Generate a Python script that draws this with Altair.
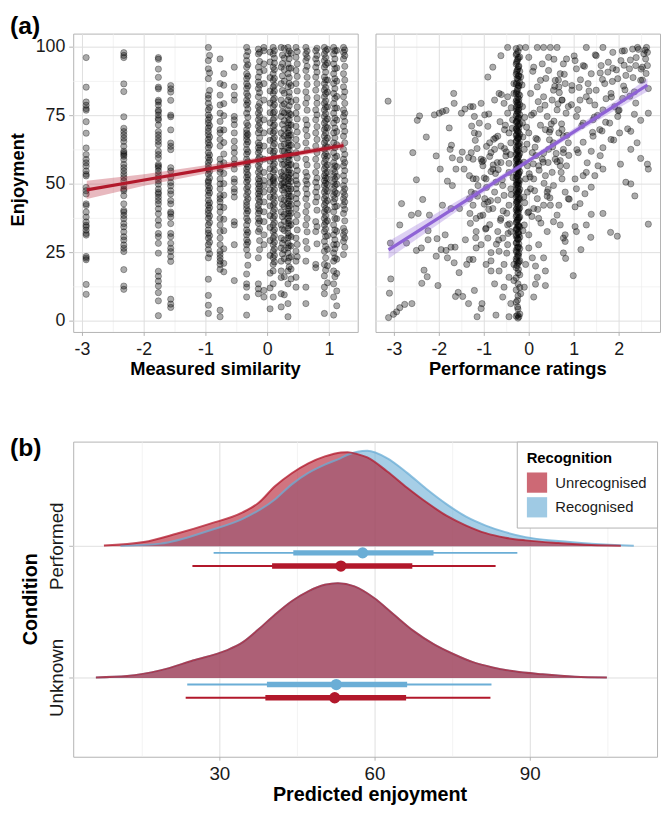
import altair as alt
import pandas as pd

RED = "#B2182B"
BLUE = "#6BAED6"
PURPLE = "#8F63D6"
FONT = "Liberation Sans"
GRID = "#DEDEDE"
MINOR = "#EEEEEE"
TICK = "#B3B3B3"
LAB = "#1A1A1A"

# ---------------- panel (a), left: measured similarity (columns of enjoyment values) ----------------
sim_cols = [-2.94, -2.33, -1.77, -1.57, -0.96, -0.77, -0.54, -0.34, -0.15, -0.06,
            0.09, 0.22, 0.33, 0.46, 0.62, 0.78, 0.92, 1.07, 1.23, -0.71, 0.04, 0.27, 0.38, 0.97, 1.12,
            -0.94, -0.32, -0.13, 0.11, 0.24, 0.35, 0.48, 0.64, 0.80, 0.94, 1.09, 1.25]
sim_c1 = [96.2, 85.4, 80.0, 78.8, 77.6, 77.0, 72.8, 68.6, 63.2, 60.8, 59.0, 57.8, 56.6, 54.8, 53.6, 53.0, 48.8, 47.6, 46.4, 42.8, 42.2, 39.8, 38.0, 36.2, 35.0, 34.4, 33.2, 32.0, 31.4, 23.6, 23.0, 22.4, 13.4, 9.8]
sim_c2 = [98.0, 97.0, 96.2, 86.6, 83.8, 74.6, 70.4, 69.2, 68.0, 66.8, 65.6, 63.8, 62.0, 61.4, 60.8, 60.2, 59.0, 57.2, 56.0, 54.8, 53.6, 52.4, 51.2, 49.4, 48.2, 47.6, 45.8, 42.8, 40.4, 39.8, 38.6, 37.4, 35.6, 34.4, 32.6, 30.8, 29.6, 27.8, 26.6, 25.4, 18.8, 12.8, 11.6]
sim_c3 = [96.2, 95.6, 92.0, 89.0, 85.4, 84.8, 80.6, 80.0, 78.8, 77.0, 76.4, 75.2, 74.0, 73.4, 71.6, 69.2, 68.0, 66.8, 65.6, 64.4, 62.0, 60.8, 59.6, 57.2, 56.6, 56.0, 54.8, 53.6, 52.4, 51.2, 50.0, 48.2, 47.0, 46.4, 45.2, 44.0, 42.8, 41.0, 39.2, 36.8, 35.0, 32.0, 30.8, 28.4, 24.8, 18.2, 16.4, 14.6, 12.8, 10.4, 7.4, 2.0]
sim_c4 = [86.0, 84.8, 83.6, 80.6, 75.2, 74.6, 69.8, 65.0, 63.8, 62.6, 56.0, 54.8, 52.4, 50.6, 49.4, 47.6, 46.4, 44.0, 42.8, 39.8, 39.2, 38.0, 35.6, 32.0, 30.8, 28.4, 26.6, 25.4, 23.6, 21.8, 8.0, 6.2, 5.0]
sim_c5 = [99.9, 95.1, 92.1, 88.5, 82.5, 81.3, 79.5, 77.1, 75.3, 73.5, 72.3, 70.5, 69.3, 68.1, 66.3, 65.1, 63.3, 61.5, 59.7, 57.9, 56.7, 55.5, 53.7, 51.3, 50.7, 49.5, 47.7, 45.9, 44.1, 42.3, 40.5, 39.3, 37.5, 35.1, 33.3, 32.1, 30.3, 27.9, 26.1, 23.1, 15.3, 9.4, 5.8, 2.8]
sim_c6 = [95.7, 86.7, 82.5, 78.9, 75.9, 72.9, 69.9, 68.7, 66.3, 63.9, 59.1, 57.3, 55.5, 54.3, 51.9, 50.1, 48.3, 45.9, 44.7, 43.5, 41.7, 39.9, 37.5, 35.1, 32.7, 30.3, 27.9, 25.5, 24.3, 23.1, 21.9, 20.7, 18.9, 4.0, 1.6]
sim_c7 = [92.7, 85.5, 82.5, 80.7, 74.7, 73.5, 71.7, 68.7, 65.7, 63.3, 61.5, 59.1, 57.3, 55.5, 51.9, 50.7, 48.3, 47.1, 45.3, 36.3, 35.1, 27.9, 14.8]
sim_c8 = [99.9, 96.9, 95.1, 92.7, 90.3, 88.5, 86.7, 84.9, 83.1, 80.7, 78.9, 75.9, 72.3, 69.9, 68.7, 67.5, 66.3, 64.5, 62.7, 60.9, 59.1, 57.3, 55.5, 54.3, 52.5, 50.7, 48.3, 45.9, 43.5, 42.3, 41.1, 39.3, 37.5, 35.1, 33.3, 31.5, 29.7, 27.9, 26.1, 17.2, 13.6, 12.4, 8.8, 2.2]
sim_c9 = [99.3, 97.5, 92.7, 89.1, 87.3, 84.9, 81.9, 78.3, 75.9, 73.5, 71.1, 68.7, 65.1, 63.3, 61.5, 59.1, 56.7, 54.3, 51.9, 50.1, 48.3, 46.5, 44.7, 42.3, 41.1, 39.3, 37.5, 35.7, 32.7, 23.1, 13.6, 11.8, 10.0]
sim_c10 = [99.9, 98.7, 93.9, 91.5, 86.7, 80.7, 73.5, 68.7, 63.9, 59.1, 54.3, 51.3, 49.5, 47.1, 43.5, 39.9, 36.3, 31.5, 27.9, 11.2, 8.8]
sim_c11 = [99.9, 97.5, 92.7, 90.3, 87.9, 85.5, 83.1, 80.7, 78.3, 75.9, 73.5, 71.1, 68.7, 66.3, 63.9, 61.5, 59.1, 56.7, 54.3, 51.9, 51.3, 49.5, 47.1, 44.7, 42.3, 39.9, 37.5, 35.1, 32.7, 30.3, 27.9, 25.5, 23.1, 20.7, 18.3, 13.6, 8.8]
sim_c12 = [99.9, 92.7, 86.7, 80.7, 74.7, 68.7, 63.9, 59.1, 54.3, 51.9, 49.5, 44.7, 39.9, 35.1, 30.3, 26.7, 21.9, 18.3, 15.9, 10.0, 5.2]
sim_c13 = [99.9, 97.5, 93.9, 90.3, 85.5, 80.7, 77.1, 74.7, 72.3, 70.5, 68.7, 66.9, 65.1, 63.3, 61.5, 59.7, 57.9, 56.1, 54.3, 52.5, 51.3, 50.1, 48.3, 46.5, 44.7, 42.9, 41.1, 39.3, 37.5, 35.7, 33.9, 32.1, 30.3, 28.5, 26.7, 24.9, 21.9, 18.3, 13.6, 6.4, 1.6]
sim_c14 = [99.9, 96.3, 91.5, 86.7, 80.7, 75.9, 71.1, 66.3, 61.5, 56.7, 53.1, 51.3, 48.3, 44.7, 41.1, 36.3, 30.3, 25.5, 21.9, 16.0, 12.4]
sim_c15 = [99.9, 97.5, 95.1, 91.5, 83.7, 79.5, 73.5, 69.9, 65.1, 59.1, 54.3, 51.3, 48.3, 44.7, 39.9, 35.1, 29.1, 21.9, 12.4, 6.4]
sim_c16 = [98.7, 95.7, 92.7, 89.1, 84.3, 77.1, 73.5, 68.7, 63.9, 59.1, 54.3, 50.7, 47.1, 43.5, 36.3, 32.7, 20.7, 19.5]
sim_c17 = [99.9, 97.5, 95.1, 92.7, 89.1, 86.7, 84.3, 81.9, 79.5, 77.1, 74.7, 72.3, 69.9, 67.5, 65.1, 62.7, 60.3, 57.9, 55.5, 53.1, 51.3, 49.5, 47.1, 44.7, 42.3, 39.9, 37.5, 35.1, 32.7, 29.1, 25.5, 20.7, 16.5, 12.4, 10.0, 2.8]
sim_c18 = [99.9, 97.5, 93.9, 90.3, 86.7, 83.1, 79.5, 75.9, 72.3, 68.7, 65.1, 61.5, 57.9, 55.5, 53.1, 50.7, 48.3, 45.9, 43.5, 39.9, 35.1, 31.5, 27.9, 24.9, 21.9, 18.3, 13.6, 8.8, 2.2]
sim_c19 = [99.9, 98.1, 95.7, 90.3, 85.5, 81.9, 77.1, 74.7, 71.1, 67.5, 62.7, 59.1, 56.7, 53.1, 49.5, 47.1, 44.7, 42.3, 39.3, 33.9, 31.5, 29.1, 24.3]
sim_c20 = [90.3, 86.1, 79.4, 75.0, 69.8, 65.2, 61.0, 57.8, 53.9, 50.2, 46.0, 41.5, 37.2, 33.0, 26.4, 21.1, 18.0]
sim_c21 = [98.2, 94.6, 88.9, 84.0, 79.6, 76.1, 72.4, 69.3, 66.0, 62.2, 58.4, 55.6, 52.8, 50.6, 48.0, 45.3, 42.1, 38.5, 34.2, 29.4, 24.0, 17.5, 12.1, 4.5]
sim_c22 = [99.6, 96.0, 91.8, 87.6, 83.2, 79.3, 76.0, 73.2, 70.0, 67.6, 64.6, 62.0, 59.9, 57.4, 55.0, 52.6, 50.5, 48.9, 46.8, 44.2, 41.8, 39.0, 36.4, 33.1, 29.7, 26.0, 22.8, 16.2, 9.6]
sim_c23 = [97.8, 92.3, 86.0, 80.1, 75.4, 71.6, 68.0, 64.2, 60.6, 57.2, 54.0, 51.0, 48.2, 45.5, 42.6, 39.4, 35.2, 30.8, 27.4, 23.5, 19.0, 15.4]
sim_c24 = [99.2, 94.2, 88.0, 83.6, 78.2, 73.8, 70.6, 66.8, 63.6, 60.2, 57.0, 54.4, 52.0, 49.8, 47.4, 44.0, 40.6, 36.6, 31.2, 26.2, 20.2, 14.0]
sim_c25 = [98.8, 92.4, 87.6, 82.0, 77.8, 73.4, 69.2, 64.4, 60.2, 56.4, 52.8, 50.0, 46.6, 42.0, 37.4, 32.8, 28.0, 22.6, 17.4, 11.0, 5.6]
sim_c26 = [97.0, 90.6, 84.2, 78.0, 74.4, 71.4, 67.2, 64.2, 60.6, 58.8, 54.6, 52.2, 48.6, 46.8, 43.2, 41.4, 38.4, 36.0, 31.2, 28.8, 24.6]
sim_c27 = [98.4, 93.6, 89.4, 85.8, 82.2, 79.8, 77.4, 74.4, 71.4, 68.1, 65.4, 61.8, 58.2, 56.4, 53.4, 51.6, 49.2, 47.1, 44.7, 40.2, 36.6, 32.4, 28.8, 24.0, 20.4]
sim_c28 = [98.1, 94.8, 90.9, 86.1, 83.4, 79.5, 77.1, 74.7, 72.3, 69.9, 66.9, 64.2, 62.4, 60.0, 57.9, 55.5, 53.1, 51.0, 49.2, 47.4, 45.6, 43.5, 40.2, 36.6, 33.6, 29.4, 26.1]
sim_c29 = [98.7, 96.0, 94.2, 91.8, 88.6, 86.1, 84.0, 81.3, 79.0, 76.4, 74.2, 71.6, 69.4, 67.0, 64.8, 62.1, 60.0, 57.5, 55.2, 52.6, 50.4, 48.0, 45.6, 43.2, 40.8, 38.4, 36.0, 33.4, 31.2, 28.8, 26.4, 24.0, 21.6]
sim_c30 = [97.1, 94.0, 89.5, 84.2, 78.6, 76.3, 71.8, 66.5, 62.1, 57.2, 53.0, 50.2, 47.9, 42.6, 38.1, 33.7, 28.4, 24.5]
sim_c31 = [98.6, 95.8, 92.4, 88.9, 86.8, 83.5, 81.9, 78.6, 75.8, 73.5, 71.6, 69.5, 67.8, 66.0, 64.1, 62.4, 60.5, 58.8, 57.0, 55.2, 53.4, 52.0, 49.3, 47.4, 45.6, 43.8, 42.0, 40.2, 38.4, 36.6, 34.8, 31.2, 27.6, 23.1, 19.8]
sim_c32 = [98.4, 93.9, 89.3, 84.0, 78.2, 73.8, 69.0, 64.0, 59.5, 55.0, 50.0, 46.6, 42.9, 38.7, 33.3, 28.0, 23.5]
sim_c33 = [98.6, 96.2, 93.0, 89.0, 86.4, 81.5, 77.0, 71.6, 67.6, 62.5, 57.0, 52.8, 50.0, 46.4, 42.2, 37.5, 32.6, 26.5]
sim_c34 = [99.6, 97.0, 94.2, 90.9, 86.7, 81.6, 79.5, 75.3, 71.0, 66.3, 61.5, 56.7, 52.2, 48.9, 45.3, 40.5, 34.5, 28.2]
sim_c35 = [98.7, 96.2, 93.6, 90.9, 88.0, 85.3, 83.0, 80.4, 78.1, 75.7, 73.2, 70.8, 68.6, 66.1, 63.8, 61.2, 59.0, 56.5, 54.1, 52.2, 50.4, 48.1, 45.7, 43.3, 41.0, 38.5, 36.1, 33.6, 30.9, 27.3, 23.1, 18.6]
sim_c36 = [98.7, 95.7, 92.1, 88.5, 84.9, 81.3, 77.7, 74.1, 70.5, 66.9, 63.3, 59.7, 56.7, 54.3, 51.9, 49.5, 47.1, 44.7, 41.7, 37.5, 33.3, 29.7, 26.4, 23.1, 16.2]
sim_c37 = [99.0, 96.9, 93.0, 88.0, 83.7, 79.5, 75.9, 72.9, 69.3, 65.1, 60.9, 57.9, 54.9, 51.3, 48.3, 45.9, 43.5, 40.8, 36.6, 32.7, 30.3, 27.0]
sim_values = [sim_c1, sim_c2, sim_c3, sim_c4, sim_c5, sim_c6, sim_c7, sim_c8, sim_c9, sim_c10,
              sim_c11, sim_c12, sim_c13, sim_c14, sim_c15, sim_c16, sim_c17, sim_c18, sim_c19,
              sim_c20, sim_c21, sim_c22, sim_c23, sim_c24, sim_c25, sim_c26, sim_c27, sim_c28,
              sim_c29, sim_c30, sim_c31, sim_c32, sim_c33, sim_c34, sim_c35, sim_c36, sim_c37]

# fitted line + 95% band
sim_fit_x = [-2.93, -2.0, -1.0, 0.0, 0.3, 1.0, 1.23]
sim_fit_y = [47.9, 51.5, 55.4, 59.3, 60.5, 63.2, 64.1]
sim_fit_lo = [44.6, 49.4, 53.9, 58.4, 59.6, 62.1, 62.8]
sim_fit_hi = [51.2, 53.6, 56.9, 60.2, 61.4, 64.3, 65.4]

# ---------------- panel (a), right: performance ratings ----------------
perf_x_left = [-3.14, -2.44, -2.49, -2.11, -2.0, -1.93, -1.85, -1.68, -1.67, -1.51, -1.43, -2.29, -1.78, -2.59, -2.07, -1.73, -1.76, -1.71, -1.98, -1.63, -1.49, -1.54, -1.82, -1.71, -1.45, -2.51, -2.84, -2.37, -2.62, -2.47, -2.88, -2.22, -1.93, -1.74, -2.73, -2.51, -2.4, -2.25, -2.25, -2.05, -1.87, -1.96, -1.85, -1.74, -1.65, -2.07, -1.82, -1.67, -1.56, -2.34, -2.27, -2.39, -2.03, -3.09, -3.08, -3.11, -3.13, -3.02, -2.95, -2.88, -2.77, -2.61, -1.64, -1.58, -1.48, -1.35, -1.39, -1.42, -1.55, -1.33, -1.35, -1.31, -1.32, -1.31, -1.33]
perf_y_left = [80.3, 74.9, 73.3, 75.3, 75.9, 76.5, 76.9, 83.1, 79.5, 75.9, 77.4, 67.2, 70.5, 61.5, 60.3, 64.2, 62.7, 59.6, 55.5, 55.5, 61.7, 58.9, 51.1, 49.5, 55.5, 51.6, 42.9, 44.4, 38.7, 39.3, 35.1, 38.7, 42.3, 41.1, 28.5, 25.8, 26.7, 33.0, 29.7, 30.1, 31.5, 26.1, 25.8, 27.0, 27.0, 23.7, 23.1, 21.3, 17.7, 18.6, 16.2, 13.8, 13.0, 28.5, 15.4, 10.2, 1.3, 2.5, 3.4, 4.9, 6.1, 6.4, 9.0, 10.5, 9.0, 6.4, 20.7, 29.7, 41.1, 44.7, 59.7, 78.3, 39.3, 35.7, 22.5]
perf_x_mid = [-0.81, -0.92, -0.63, -0.48, -0.08, -0.01, 0.18, 0.32, 0.47, 0.62, 0.1, 0.29, 0.43, 0.69, -0.77, -1.07, -1.25, -0.99, -0.67, -0.56, -0.48, 0.03, 0.18, 0.32, 0.54, 0.73, 0.1, 0.4, 0.62, -1.22, -0.92, -0.7, -0.55, -0.41, -0.01, 0.18, 0.36, 0.54, 0.76, -1.29, -1.07, -0.85, -0.63, -0.45, -0.04, 0.1, 0.29, 0.51, 0.69, -1.33, -1.14, -0.96, -0.77, -0.59, -0.04, 0.18, 0.4, 0.66, -1.25, -1.03, -0.81, -0.63, -0.45, -0.01, 0.21, 0.47, 0.62, -1.18, -0.92, -0.7, -0.48, -0.01, 0.21, 0.4, 0.76, -1.25, -0.85, -0.67, -0.77, -0.59, -0.08, 0.14, 0.18, 0.36, 0.1, 0.14, -0.41, -0.74, -0.45, -1.16, -1.05, -1.07, -1.22, -0.85, -0.56, -0.96, -0.34,
              -1.22, -1.11, -0.88, -0.77, -0.63, -0.52, -0.45, -0.11, 0.07, 0.21, 0.36, 0.54, 0.73, 0.8, -0.08, 0.03, 0.1, 0.32, 0.54, 0.69, -0.11, -0.01, 0.07, -1.18, -0.92, -0.74, -0.56, -0.41, -0.59, -0.48, -0.41, -0.67, -0.85, -0.45, 0.32, 0.36, -0.11, -0.56, -0.34, -0.19, -0.26, -0.26, -0.26, -0.23,
              -0.19, -0.34, -0.15, -0.37, -0.15, -0.34, -0.48, 0.51, 0.66, 0.76, 0.43, 0.58, 0.25, 0.47, 0.66, 0.76, 0.58, 0.43, -1.03, -1.25, -1.18, -0.81, -0.99, -1.29, -1.07, -1.18, -0.96, 0.73, 0.76, 0.73]
perf_y_mid = [92.7, 89.1, 96.9, 99.9, 99.9, 96.3, 99.9, 99.9, 99.9, 99.9, 92.7, 93.9, 91.5, 90.3, 80.7, 79.5, 78.3, 75.3, 83.1, 79.5, 75.9, 83.1, 85.5, 81.9, 84.3, 80.7, 75.9, 74.7, 77.1, 68.7, 71.1, 67.5, 69.9, 65.1, 68.7, 66.3, 69.9, 65.1, 67.5, 61.5, 59.1, 61.5, 57.9, 54.3, 56.7, 51.9, 59.1, 54.3, 56.7, 53.1, 49.5, 51.9, 47.1, 49.5, 47.1, 44.7, 47.1, 42.3, 42.3, 38.7, 41.1, 37.5, 42.3, 39.9, 37.5, 42.3, 38.7, 32.7, 30.3, 32.7, 27.9, 31.5, 27.9, 32.7, 30.3, 22.5, 22.0, 18.3, 13.6, 8.8, 20.7, 20.1, 16.0, 13.0, 8.8, 13.5, 6.4, 2.2, 1.6, 1.6, 6.4, 4.6, 11.2, 25.0, 20.7, 33.9, 20.7,
              74.7, 72.3, 65.1, 62.7, 63.9, 60.3, 68.7, 62.7, 61.5, 56.7, 53.1, 49.5, 51.9, 47.1, 51.9, 48.3, 41.1, 42.3, 36.3, 35.1, 35.1, 26.7, 23.1, 37.5, 43.5, 50.7, 45.9, 48.3, 30.3, 35.1, 32.7, 25.5, 18.3, 16.0, 23.1, 18.3, 12.4, 12.4, 14.8, 10.0, 7.6, 5.2, 2.2, 1.6,
              89.1, 83.1, 78.3, 73.5, 72.3, 86.7, 81.9, 80.7, 85.5, 93.9, 96.3, 87.9, 87.9, 69.9, 68.7, 61.5, 59.1, 62.7, 56.7, 59.1, 51.9, 55.5, 44.7, 47.1, 27.9, 26.7, 20.7, 69.9, 62.7, 80.7]
perf_x_mid2 = [-1.2, -1.05, -0.95, -0.85, -0.75, -0.65, -0.55, -0.45, -0.38, -0.12, -0.05, 0.05, 0.15, 0.25, 0.35, 0.45, 0.55, 0.65, -1.15, -1.0, -0.9, -0.8, -0.7, -0.6, -0.5, -0.4, -0.1, 0.0, 0.12, 0.22, 0.32, 0.42, 0.52, 0.62, 0.72, -0.88, -0.68, -0.5, -0.14, 0.06, 0.26, 0.46]
perf_y_mid2 = [66.0, 58.2, 63.8, 54.6, 66.9, 72.8, 63.0, 57.6, 70.4, 58.0, 64.6, 75.2, 60.4, 71.5, 78.8, 66.2, 73.0, 88.0, 45.6, 52.3, 40.8, 57.0, 44.2, 51.6, 39.4, 46.2, 43.2, 53.8, 47.6, 55.1, 61.3, 57.9, 63.6, 58.2, 72.0, 35.2, 29.6, 24.8, 33.0, 38.2, 35.8, 45.0]
perf_x_cloud1 = [-1.28, -1.21, -1.16, -1.09, -1.02, -0.97, -0.9, -0.86, -0.79, -0.73, -0.69, -0.62, -0.58, -0.51, -0.44, -0.4, -0.36,
                 -0.16, -0.12, -0.06, 0.02, 0.08, 0.13, 0.19, 0.24, 0.31, 0.37, 0.42, 0.49, 0.55, 0.6, 0.67, 0.71, 0.78, 0.84, 0.89, 0.94, 1.0,
                 1.06, 1.11, 1.17, 1.23, 1.29, 1.34, 1.41, 1.47, 1.52, 1.58, 1.63, 1.7, 1.76, 1.83, 1.88, 1.94, 2.0, 2.07, 2.13, 2.19, 2.25, 2.31, 2.37, 2.43, 2.49, 2.55, 2.6]
perf_y_cloud1 = [71.2, 46.5, 63.0, 38.4, 58.7, 33.6, 75.6, 44.0, 66.4, 28.1, 55.3, 82.7, 40.2, 61.8, 35.5, 77.9, 52.4,
                 86.2, 45.3, 70.8, 52.6, 91.2, 63.5, 40.8, 77.3, 58.0, 88.6, 48.1, 72.0, 95.6, 61.2, 83.4, 54.3, 90.1, 67.8, 44.5, 79.0,
                 96.8, 62.6, 85.3, 71.4, 93.0, 57.8, 80.4, 68.9, 97.2, 75.1, 60.4, 88.2, 72.6, 94.5, 81.8, 66.1, 91.7, 77.0, 98.6, 84.4, 70.2, 95.3, 88.9, 79.6, 99.2, 92.0, 97.6, 90.4]
perf_x_cloud2 = [-1.25, -1.13, -1.0, -0.88, -0.75, -0.64, -0.53, -0.42, -0.14, -0.03, 0.09, 0.2, 0.33, 0.45, 0.57, 0.69, 0.82, 0.95, 1.08, 1.2, 1.33, 1.45, 1.58, 1.71, 1.85, 1.98, 2.11, 2.24, 2.38, 2.52,
                 -1.19, -0.95, -0.71, -0.47, -0.1, 0.15, 0.4, 0.64, 0.88, 1.14, 1.38, 1.62, 1.86, 2.1, 2.34, 2.58]
perf_y_cloud2 = [52.0, 68.3, 42.7, 60.1, 53.9, 36.8, 71.5, 60.8, 67.2, 39.6, 57.4, 80.1, 50.3, 69.0, 85.7, 58.6, 75.9, 86.0, 77.2, 65.3, 84.0, 74.5, 90.6, 81.2, 87.5, 76.8, 93.4, 82.1, 96.2, 88.0,
                 30.4, 48.8, 57.9, 32.0, 74.4, 66.7, 45.6, 79.3, 60.5, 88.1, 62.0, 69.4, 92.3, 85.8, 75.5, 98.9]
perf_x_right = [1.27, 1.64, 2.12, 2.3, 2.41, 2.61, 2.63, 2.59, 2.63, 2.52, 2.37, 2.23, 2.04, 1.86, 1.49, 1.6, 1.75, 1.97, 2.15, 2.48, 2.65, 2.34, 2.08, 0.83, 1.02, 1.05, 1.2, 1.38, 1.31, 1.49, 1.68, 1.82, 1.27, 1.46, 1.64, 1.9, 0.8, 0.95, 1.13, 0.87, 1.05, 1.2, 1.42, 1.57, 1.79, 1.97, 2.01, 1.82, 1.64, 1.42, 2.26, 2.4, 2.26, 2.48, 2.65, 2.48, 2.63, 2.65, 2.03, 2.15, 2.26, 2.35, 1.64, 1.53, 1.46, 1.27, 1.09, 0.87, 0.83, 1.02, 1.2, 1.38, 1.24, 1.05, 0.87, 1.02, 1.13, 1.38, 1.64, 1.27, 1.02, 1.05, 0.8, 1.37, 1.81, 1.96, 0.8, 1.15, 0.76, 0.81, 0.98, 2.65]
perf_y_right = [99.9, 99.9, 98.7, 99.3, 99.9, 99.9, 98.1, 95.7, 93.3, 92.7, 93.3, 92.1, 95.1, 98.1, 96.9, 93.3, 90.9, 88.5, 89.7, 87.9, 84.9, 83.7, 81.3, 95.7, 95.1, 92.1, 93.3, 90.3, 86.7, 84.3, 86.7, 83.1, 81.9, 78.9, 77.1, 78.3, 86.7, 84.3, 80.7, 78.3, 74.7, 72.3, 73.5, 69.9, 72.3, 74.7, 68.7, 66.3, 63.3, 67.5, 69.3, 65.1, 62.7, 73.3, 75.9, 59.4, 57.3, 55.5, 57.3, 50.7, 50.1, 45.7, 55.5, 56.7, 53.1, 54.3, 61.5, 65.1, 56.7, 51.9, 53.1, 48.9, 46.5, 48.3, 44.7, 41.7, 42.9, 39.0, 39.3, 35.1, 34.5, 32.7, 31.5, 30.6, 32.4, 31.0, 29.1, 26.1, 24.9, 22.9, 16.6, 35.4]
# the dense vertical streak near x = -0.25
perf_band_x = [-0.29, -0.25, -0.21, -0.27, -0.23, -0.28, -0.24]
perf_band_a = [99.5, 97.2, 93.8, 90.1, 86.4, 83.0, 80.2, 77.5, 74.9, 72.6, 70.1, 67.8, 65.5, 63.0, 60.8, 58.6, 56.4, 54.0, 51.8, 49.7, 47.4, 45.2, 42.9, 40.6, 38.1, 35.9, 33.4, 31.0, 28.5, 25.8, 22.7, 19.5, 15.8, 11.4, 6.9, 1.8]
perf_band_b = [98.4, 95.6, 92.0, 88.3, 85.0, 81.6, 78.9, 76.2, 73.8, 71.3, 69.0, 66.6, 64.2, 61.9, 59.7, 57.5, 55.2, 53.0, 50.8, 48.6, 46.3, 44.0, 41.7, 39.4, 37.0, 34.6, 32.2, 29.8, 27.1, 24.3, 21.2, 17.6, 13.6, 9.2, 4.4, 1.1]
perf_band_c = [99.8, 96.4, 91.2, 87.1, 82.4, 79.0, 75.4, 71.9, 68.2, 64.8, 61.2, 57.9, 54.6, 51.3, 48.1, 44.8, 41.3, 38.0, 34.4, 30.6, 26.5, 22.0, 16.9, 12.3, 2.6]
perf_band_d = [95.0, 91.5, 88.7, 84.2, 79.6, 76.8, 73.1, 69.5, 66.9, 62.4, 59.2, 55.8, 52.7, 49.9, 46.6, 43.5, 40.1, 36.9, 33.5, 30.2, 26.7, 23.4, 20.3]
perf_band_e = [93.1, 89.4, 85.8, 81.0, 77.7, 74.2, 70.6, 67.3, 63.9, 60.5, 57.3, 53.9, 50.3, 47.3, 44.4, 41.0, 37.8, 34.7, 31.6, 28.2, 24.9, 21.6]
perf_band_f = [97.6, 94.4, 90.9, 87.0, 83.6, 80.8, 78.3, 75.6, 72.8, 70.4, 68.1, 65.9, 63.6, 61.4, 59.2, 57.0, 55.1, 52.8, 50.5, 48.2, 46.0, 43.7, 41.2, 38.8, 36.2, 33.8, 31.4, 28.6, 25.2, 22.0]
perf_band_g = [96.2, 92.8, 89.6, 86.0, 82.9, 80.0, 77.0, 74.3, 71.7, 69.3, 66.8, 64.7, 62.3, 60.1, 58.0, 55.9, 53.7, 51.5, 49.4, 47.1, 44.9, 42.5, 40.0, 37.4, 35.0, 32.5, 29.9, 27.0, 23.8, 18.9]

perf_fit_x = [-3.13, -2.0, -1.0, 0.0, 1.0, 2.0, 2.63]
perf_fit_y = [26.0, 37.8, 48.3, 58.7, 69.2, 79.6, 86.2]
perf_fit_lo = [22.8, 35.6, 47.0, 57.8, 68.0, 77.9, 83.8]
perf_fit_hi = [29.2, 40.0, 49.6, 59.6, 70.4, 81.3, 88.6]

# axis ticks of panel (a)
enjoy_ticks = [0, 25, 50, 75, 100]
enjoy_minor = [12.5, 37.5, 62.5, 87.5]
sim_ticks = [-3, -2, -1, 0, 1]
sim_minor = [-2.5, -1.5, -0.5, 0.5]
perf_ticks = [-3, -2, -1, 0, 1, 2]
perf_minor = [-2.5, -1.5, -0.5, 0.5, 1.5, 2.5]

# ---------------- panel (b): posterior densities + intervals ----------------
cond_names = ["Unknown", "Performed"]
cond_levels = {"Performed": 2, "Unknown": 1}
perf_unrec_x = [7.6, 15.3, 21.6, 28.0, 34.4, 37.5, 40.7, 43.9, 47.1, 50.3, 53.4, 54.7, 56.6, 58.5, 62.3, 66.2, 70.0, 73.8, 77.6, 81.4, 85.2, 89.1, 95.4, 101.8, 107.5]
perf_unrec_h = [0.8, 4.3, 12.7, 22.7, 34.3, 44.0, 61.0, 74.0, 84.0, 91.0, 95.0, 95.3, 93.3, 90.0, 76.0, 59.3, 44.3, 31.0, 21.0, 13.3, 8.7, 6.0, 3.3, 1.3, 0.6]
perf_rec_x = [10.8, 18.5, 28.0, 34.4, 40.7, 43.9, 47.1, 50.3, 53.4, 54.7, 58.5, 62.3, 66.2, 70.0, 73.8, 77.6, 81.4, 85.2, 89.1, 95.4, 101.8, 110.0]
perf_rec_h = [0.6, 2.7, 16.0, 27.7, 47.7, 62.7, 74.3, 82.7, 89.3, 92.7, 96.7, 89.3, 74.3, 57.7, 42.7, 30.0, 21.0, 14.3, 9.3, 5.3, 2.7, 0.6]
unk_x = [6.05, 12.1, 18.5, 24.8, 31.2, 34.4, 37.5, 40.7, 43.9, 47.1, 50.3, 52.8, 56.0, 59.8, 63.6, 67.4, 71.3, 75.1, 78.9, 82.7, 86.5, 92.3, 98.6, 104.8]
unk_h = [0.6, 2.0, 7.7, 17.7, 27.7, 36.0, 49.3, 64.3, 77.7, 87.7, 94.3, 96.0, 92.7, 81.0, 64.3, 47.7, 34.3, 24.3, 16.0, 10.7, 7.0, 3.7, 1.3, 0.6]

iv_cond = ["Performed", "Performed", "Unknown", "Unknown"]
iv_rec = ["Recognised", "Unrecognised", "Recognised", "Unrecognised"]
iv_med = [57.6, 53.4, 52.5, 52.2]
iv_lo66 = [44.2, 40.1, 39.1, 38.8]
iv_hi66 = [71.3, 67.2, 66.2, 66.0]
iv_lo95 = [28.8, 24.7, 23.7, 23.4]
iv_hi95 = [87.5, 83.3, 82.5, 82.3]
iv_drop = [0.05, 0.15, 0.05, 0.15]

pred_ticks = [30, 60, 90]
pred_minor = [15, 45, 75, 105]

# ======================= build tables =======================
sim_df = pd.DataFrame([{"x": cx, "y": v} for cx, col in zip(sim_cols, sim_values) for v in col])
band_lists = [perf_band_a, perf_band_b, perf_band_c, perf_band_d, perf_band_e, perf_band_f, perf_band_g]
perf_df = pd.concat(
    [pd.DataFrame({"x": perf_x_left, "y": perf_y_left}),
     pd.DataFrame({"x": perf_x_mid, "y": perf_y_mid}),
     pd.DataFrame({"x": perf_x_mid2, "y": perf_y_mid2}),
     pd.DataFrame({"x": perf_x_cloud1, "y": perf_y_cloud1}),
     pd.DataFrame({"x": perf_x_cloud2, "y": perf_y_cloud2}),
     pd.DataFrame({"x": perf_x_right, "y": perf_y_right})]
    + [pd.DataFrame({"x": bx_, "y": bl}) for bx_, bl in zip(perf_band_x, band_lists)],
    ignore_index=True)
sim_fit = pd.DataFrame({"x": sim_fit_x, "y": sim_fit_y, "lo": sim_fit_lo, "hi": sim_fit_hi})
perf_fit = pd.DataFrame({"x": perf_fit_x, "y": perf_fit_y, "lo": perf_fit_lo, "hi": perf_fit_hi})

PX_PER_LEVEL = 133.3
dens_rows = []
for cond, rec, xs, hs in [("Performed", "Recognised", perf_rec_x, perf_rec_h),
                          ("Performed", "Unrecognised", perf_unrec_x, perf_unrec_h),
                          ("Unknown", "Recognised", unk_x, unk_h),
                          ("Unknown", "Unrecognised", unk_x, unk_h)]:
    lv = cond_levels[cond]
    for xv, hv in zip(xs, hs):
        dens_rows.append({"cond": cond, "rec": rec, "x": xv, "top": lv + hv / PX_PER_LEVEL, "base": lv})
dens_df = pd.DataFrame(dens_rows)
iv_df = pd.DataFrame({"cond": iv_cond, "rec": iv_rec, "med": iv_med, "lo66": iv_lo66, "hi66": iv_hi66,
                      "lo95": iv_lo95, "hi95": iv_hi95})
iv_df["ypos"] = [cond_levels[c] - d for c, d in zip(iv_cond, iv_drop)]


# ======================= guide helpers (drawn with marks on the shared scales) =======================
def vlines(vals, scale, color, width):
    return alt.Chart(pd.DataFrame({"v": vals})).mark_rule(color=color, strokeWidth=width).encode(
        x=alt.X("v:Q", scale=scale, axis=None))


def hlines(vals, scale, color, width):
    return alt.Chart(pd.DataFrame({"v": vals})).mark_rule(color=color, strokeWidth=width).encode(
        y=alt.Y("v:Q", scale=scale, axis=None))


def x_guide(vals, scale, h, fs, base_off):
    d = pd.DataFrame({"v": vals, "lab": [str(v) for v in vals]})
    ticks = alt.Chart(d).mark_rule(color=TICK, strokeWidth=1).encode(
        x=alt.X("v:Q", scale=scale, axis=None), y=alt.value(h), y2=alt.value(h + 4))
    labs = alt.Chart(d).mark_text(font=FONT, fontSize=fs, color=LAB, align="center", baseline="alphabetic").encode(
        x=alt.X("v:Q", scale=scale, axis=None), y=alt.value(h + base_off), text="lab:N")
    return [ticks, labs]


def title_text(txt, x, y, fs, angle=0, align="center", baseline="alphabetic"):
    return alt.Chart(pd.DataFrame({"t": [txt]})).mark_text(
        font=FONT, fontSize=fs, fontWeight="bold", color="black", align=align, baseline=baseline,
        angle=angle).encode(text="t:N", x=alt.value(x), y=alt.value(y))


# ======================= panel (a) =======================
W_A, H_A = 288, 302
ydom = [-3.95, 104.95]
ys_a = alt.Scale(domain=ydom, nice=False, zero=False)


def scatter_panel(pts, fit, xdom, xticks, xminor, xtitle, col, show_y):
    xs = alt.Scale(domain=xdom, nice=False, zero=False)
    layers = [hlines(enjoy_minor, ys_a, MINOR, 0.7), vlines(xminor, xs, MINOR, 0.7),
              hlines(enjoy_ticks, ys_a, GRID, 1), vlines(xticks, xs, GRID, 1)]
    layers.append(alt.Chart(pts).mark_circle(size=40, fill="black", fillOpacity=0.33, stroke="black",
                                             strokeOpacity=0.45, strokeWidth=0.7).encode(
        x=alt.X("x:Q", scale=xs, axis=None), y=alt.Y("y:Q", scale=ys_a, axis=None)))
    layers.append(alt.Chart(fit).mark_area(color=col, opacity=0.3).encode(
        x=alt.X("x:Q", scale=xs, axis=None), y=alt.Y("lo:Q", scale=ys_a, axis=None), y2="hi:Q"))
    layers.append(alt.Chart(fit).mark_line(color=col, strokeWidth=3.2).encode(
        x=alt.X("x:Q", scale=xs, axis=None), y=alt.Y("y:Q", scale=ys_a, axis=None)))
    layers += x_guide(xticks, xs, H_A, 18, 23)
    layers.append(title_text(xtitle, W_A / 2, H_A + 44, 18.5))
    if show_y:
        d = pd.DataFrame({"v": enjoy_ticks, "lab": [str(v) for v in enjoy_ticks]})
        layers.append(alt.Chart(d).mark_rule(color=TICK, strokeWidth=1).encode(
            y=alt.Y("v:Q", scale=ys_a, axis=None), x=alt.value(-4), x2=alt.value(0)))
        layers.append(alt.Chart(d).mark_text(font=FONT, fontSize=18, color=LAB, align="right",
                                             baseline="middle").encode(
            y=alt.Y("v:Q", scale=ys_a, axis=None), x=alt.value(-8), text="lab:N"))
        layers.append(title_text("Enjoyment", -50, H_A / 2 - 3, 18.5, angle=270))
        layers.append(title_text("(a)", -64, -20, 25, align="left", baseline="top"))
    return alt.layer(*layers).properties(width=W_A, height=H_A)


left = scatter_panel(sim_df, sim_fit, [-3.15, 1.46], sim_ticks, sim_minor, "Measured similarity", RED, True)
right = scatter_panel(perf_df, perf_fit, [-3.42, 2.91], perf_ticks, perf_minor, "Performance ratings", PURPLE, False)
row_a = alt.hconcat(left, right, spacing=16)

# ======================= panel (b) =======================
W_B, H_B = 591, 319
bxs = alt.Scale(domain=[1.66, 114.5], nice=False, zero=False)
bys = alt.Scale(domain=[0.402, 2.795], nice=False, zero=False)
cscale = alt.Scale(domain=["Unrecognised", "Recognised"], range=[RED, BLUE])
leg = alt.Legend(title="Recognition", orient="top-right", offset=0, padding=10,
                 strokeColor="#B3B3B3", fillColor="white", titleFontSize=15, labelFontSize=15,
                 titleFont=FONT, labelFont=FONT, titleFontWeight="bold", titleColor="black",
                 labelColor=LAB, symbolType="square", symbolSize=420, symbolOpacity=0.65,
                 symbolStrokeWidth=0, rowPadding=4, titlePadding=6, labelOffset=8)


def dens_layer(rec):
    d = dens_df[dens_df.rec == rec]
    return alt.Chart(d).mark_area(opacity=0.6, interpolate="monotone").encode(
        x=alt.X("x:Q", scale=bxs, axis=None),
        y=alt.Y("top:Q", scale=bys, axis=None),
        y2="base:Q",
        color=alt.Color("rec:N", scale=cscale, legend=leg),
        detail="cond:N")


def outline_layer(rec, col):
    d = dens_df[dens_df.rec == rec]
    return alt.Chart(d).mark_line(color=col, strokeWidth=2, opacity=0.75, interpolate="monotone").encode(
        x=alt.X("x:Q", scale=bxs, axis=None), y=alt.Y("top:Q", scale=bys, axis=None), detail="cond:N")


iv_color = alt.Color("rec:N", scale=cscale, legend=None)
thin = alt.Chart(iv_df).mark_rule(strokeWidth=2).encode(
    x=alt.X("lo95:Q", scale=bxs, axis=None), x2="hi95:Q", y=alt.Y("ypos:Q", scale=bys, axis=None), color=iv_color)
thick = alt.Chart(iv_df).mark_rule(strokeWidth=5.5).encode(
    x=alt.X("lo66:Q", scale=bxs, axis=None), x2="hi66:Q", y=alt.Y("ypos:Q", scale=bys, axis=None), color=iv_color)
dots = alt.Chart(iv_df).mark_circle(size=130, opacity=1).encode(
    x=alt.X("med:Q", scale=bxs, axis=None), y=alt.Y("ypos:Q", scale=bys, axis=None), color=iv_color)

cond_df = pd.DataFrame({"v": [cond_levels[c] for c in cond_names], "lab": cond_names})
cond_ticks = alt.Chart(cond_df).mark_rule(color=TICK, strokeWidth=1).encode(
    y=alt.Y("v:Q", scale=bys, axis=None), x=alt.value(-4), x2=alt.value(0))
cond_labs = alt.Chart(cond_df).mark_text(font=FONT, fontSize=19, color=LAB, align="center",
                                         baseline="alphabetic", angle=270).encode(
    y=alt.Y("v:Q", scale=bys, axis=None), x=alt.value(-10), text="lab:N")

b_layers = [vlines(pred_minor, bxs, MINOR, 0.7), vlines(pred_ticks, bxs, GRID, 1),
            hlines([1, 2], bys, GRID, 1),
            dens_layer("Recognised"), dens_layer("Unrecognised"),
            outline_layer("Recognised", BLUE), outline_layer("Unrecognised", RED),
            thin, thick, dots, cond_ticks, cond_labs]
b_layers += x_guide(pred_ticks, bxs, H_B, 19, 24)
b_layers.append(title_text("Predicted enjoyment", W_B / 2 + 5, H_B + 45, 20))
b_layers.append(title_text("Condition", -37, H_B / 2, 20, angle=270))
b_layers.append(title_text("(b)", -64, -5, 25, align="left", baseline="top"))
panel_b = alt.layer(*b_layers).properties(width=W_B, height=H_B)

chart = alt.vconcat(row_a, panel_b, spacing=57).resolve_legend(color="independent").properties(
    padding=0).configure(font=FONT).configure_view(stroke="#B3B3B3", strokeWidth=1)

chart.save("out.html", embed_options={"renderer": "svg", "actions": False})
